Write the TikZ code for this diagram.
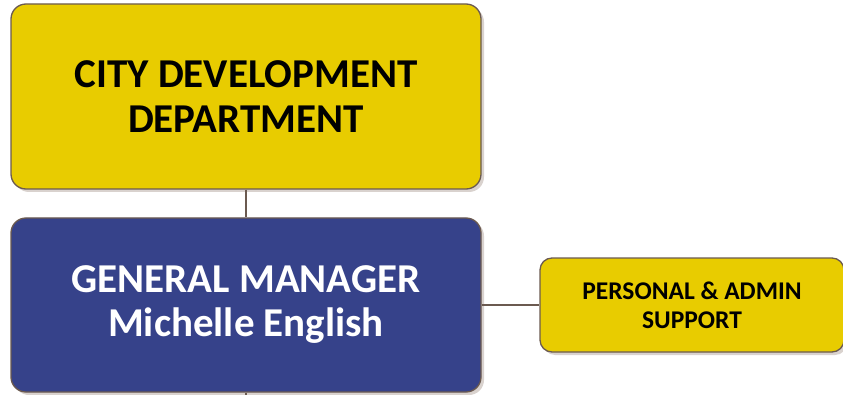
\documentclass[tikz,border=0pt]{standalone}
\usepackage{fontspec}
\setmainfont{Carlito}
\usepackage{tikz}
\usetikzlibrary{shadows}

\definecolor{deptyellow}{HTML}{E8CC00}
\definecolor{gmblue}{HTML}{36428A}
\definecolor{edgebrown}{HTML}{6B5A50}
\definecolor{shadowgray}{HTML}{D9D2CE}

\begin{document}
\begin{tikzpicture}[x=1pt, y=1pt,
  box/.style={draw=edgebrown, line width=1.3pt, rounded corners=15pt, align=center, font=\bfseries,
    drop shadow={shadow xshift=3pt, shadow yshift=-3pt, fill=shadowgray, opacity=1}},
  link/.style={draw=edgebrown, line width=1.3pt}]

\useasboundingbox (0,0) rectangle (843,394);

\node(dept)[box, fill=deptyellow, minimum width=470pt, minimum height=185pt, font=\fontsize{41}{45}\bfseries] at (246,297.5){CITY DEVELOPMENT\\DEPARTMENT};
\node(gm)[box, fill=gmblue, text=white, minimum width=470pt, minimum height=174pt, font=\fontsize{41}{44}\bfseries] at (246,89){GENERAL MANAGER\\Michelle English};
\node(admin)[box, fill=deptyellow, rounded corners=12pt, minimum width=304pt, minimum height=94pt, font=\fontsize{25.5}{29}\bfseries] at (692,89){PERSONAL \& ADMIN\\SUPPORT};

\coordinate (below) at (246,-5);

\draw[link] (dept) -- (gm);
\draw[link] (gm) -- (admin);
\draw[link] (gm) -- (below);
\end{tikzpicture}
\end{document}
